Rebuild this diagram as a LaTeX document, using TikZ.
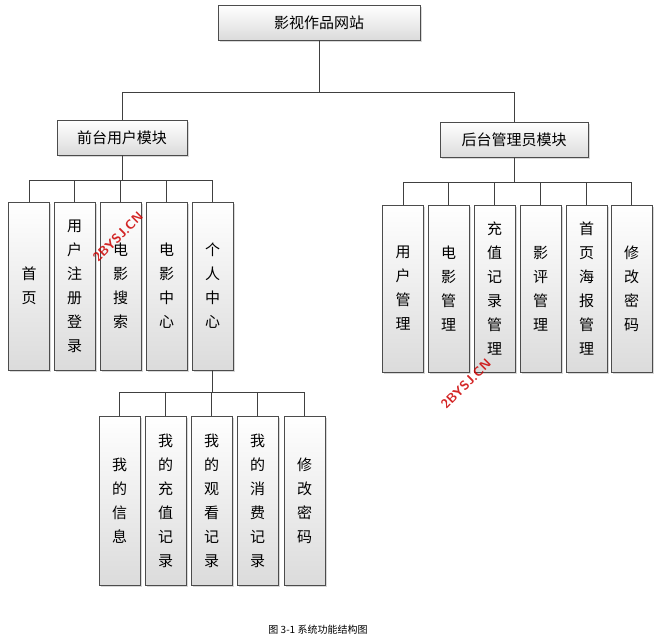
\documentclass[tikz,border=0pt]{standalone}
\usepackage{fontspec}
\newfontfamily\cjk{Noto Sans CJK SC}
\usetikzlibrary{shadows}
\begin{document}
\begin{tikzpicture}[x=1pt,y=-1pt,
  box/.style={draw=black!70,line width=0.6pt,top color=white,bottom color=black!14,
    drop shadow={shadow xshift=1.5pt,shadow yshift=-1.5pt,fill=black!30},
    font=\cjk\fontsize{15}{24}\selectfont,align=center,inner sep=0pt},
  hbox/.style={box,minimum height=35pt},
  vbox/.style={box,minimum width=41pt},
  ln/.style={draw=black!75,line width=0.6pt},
  wm/.style={text=red!80!black,font=\sffamily\bfseries\fontsize{13}{13}\selectfont,rotate=45,opacity=0.85}]
\useasboundingbox (0,0) rectangle (665,643);
\node[hbox,minimum width=202pt] (root) at (319,22.5) {影视作品网站};
\node[hbox,minimum width=130pt] (front) at (122,137.5) {前台用户模块};
\node[hbox,minimum width=148pt] (back) at (514,140) {后台管理员模块};
% front children
\foreach \n/\x/\t in {f1/29/首\\页, f2/74.5/用\\户\\注\\册\\登\\录, f3/120.5/电\\影\\搜\\索, f4/166.5/电\\影\\中\\心, f5/212.5/个\\人\\中\\心}
  \node[vbox,minimum height=168pt] (\n) at (\x,286) {\t};
\foreach \n/\x/\t in {b1/403/用\\户\\管\\理, b2/448.5/电\\影\\管\\理, b3/494.5/充\\值\\记\\录\\管\\理, b4/540.5/影\\评\\管\\理, b5/586.5/首\\页\\海\\报\\管\\理, b6/631.5/修\\改\\密\\码}
  \node[vbox,minimum height=167pt] (\n) at (\x,288.5) {\t};
\foreach \n/\x/\t in {p1/119.5/我\\的\\信\\息, p2/165.5/我\\的\\充\\值\\记\\录, p3/211.5/我\\的\\观\\看\\记\\录, p4/257.5/我\\的\\消\\费\\记\\录, p5/304.5/修\\改\\密\\码}
  \node[vbox,minimum height=169pt] (\n) at (\x,500.5) {\t};
% connectors
\draw[ln] (root.south) -- ++(0,52) -| (front.north);
\draw[ln] (root.south) ++(0,52) -| (back.north);
\foreach \n in {f1,f2,f3,f4,f5} \draw[ln] (front.south) -- ++(0,25) -| (\n.north);
\foreach \n in {b1,b2,b3,b4,b5,b6} \draw[ln] (back.south) -- ++(0,24) -| (\n.north);
\foreach \n in {p1,p2,p3,p4,p5} \draw[ln] (f5.south) -- ++(0,22) -| (\n.north);
% watermarks
\node[wm] (w1) at (118,237) {2BYSJ.CN};
\node[wm] (w2) at (466,384) {2BYSJ.CN};
\node[font=\cjk\fontsize{10}{12}\selectfont] (cap) at (318,630) {图 3-1 系统功能结构图};
\end{tikzpicture}
\end{document}
